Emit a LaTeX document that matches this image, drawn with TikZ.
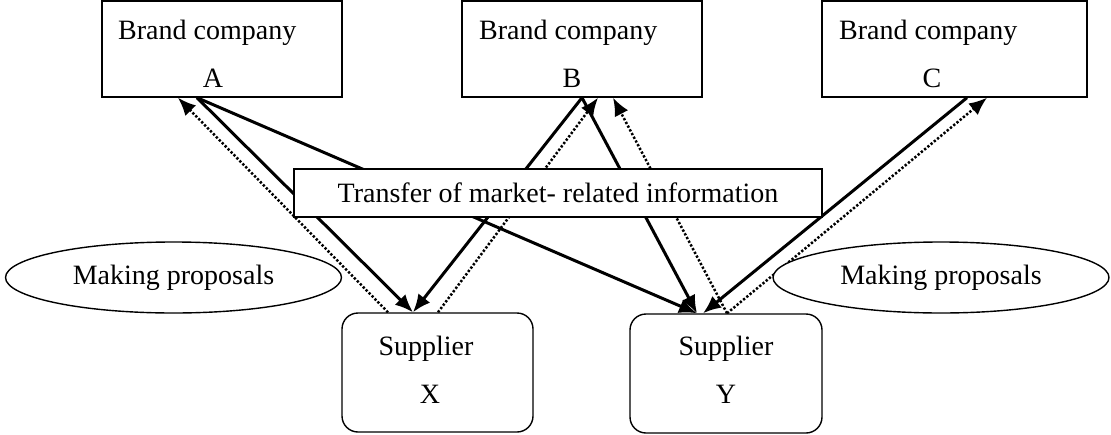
\documentclass[tikz,border=0pt]{standalone}
\usepackage{fontspec}
\setmainfont{Liberation Serif}
\usetikzlibrary{arrows.meta,shapes.geometric,backgrounds,calc}
\begin{document}
\begin{tikzpicture}[x=1pt,y=-1pt,
  box/.style={draw,line width=1.4pt,fill=white,inner sep=0pt,minimum height=96pt},
  sbox/.style={draw,line width=1.4pt,fill=white,inner sep=0pt,rounded corners=16pt,minimum width=191pt,minimum height=119pt},
  oval/.style={ellipse,draw,line width=1.4pt,fill=white,inner sep=0pt,minimum width=336pt,minimum height=71pt,font=\fontsize{28}{33}\selectfont},
  lbl/.style={inner sep=0pt,font=\fontsize{28}{33}\selectfont},
  flow/.style={line width=3pt,-{Latex[length=18pt,width=15pt]}},
  fb/.style={line width=2.5pt,dash pattern=on 2.3pt off 1.9pt,-{Latex[length=18pt,width=15pt]}}]
\useasboundingbox (0,0) rectangle (1111,434);

% brand companies
\node[box,minimum width=240pt] (A) at (222,49) {};
\node[box,minimum width=240pt] (B) at (582,49) {};
\node[box,minimum width=265pt] (C) at (954.5,49) {};
\node[lbl,anchor=base west] (At) at (118,39) {Brand company};
\node[lbl,anchor=base] (Al) at (213,87) {A};
\node[lbl,anchor=base west] (Bt) at (479,39) {Brand company};
\node[lbl,anchor=base] (Bl) at (572,87) {B};
\node[lbl,anchor=base west] (Ct) at (839,39) {Brand company};
\node[lbl,anchor=base] (Cl) at (932,87) {C};

% transfer box
\node[draw,line width=1.4pt,fill=white,inner sep=0pt,minimum width=528pt,minimum height=48pt,font=\fontsize{28}{33}\selectfont] (T) at (558,193) {Transfer of market- related information};

% suppliers
\node[sbox] (X) at (437.5,372.5) {};
\node[sbox,minimum width=192pt] (Y) at (726,373.5) {};
\node[lbl,anchor=base] (Xt) at (426,355) {Supplier};
\node[lbl,anchor=base] (Xl) at (430,403) {X};
\node[lbl,anchor=base] (Yt) at (726,355) {Supplier};
\node[lbl,anchor=base] (Yl) at (726,403) {Y};

% ellipses
\node[oval] (EL) at (173.5,277.5) {Making proposals};
\node[oval] (ER) at (941,277.5) {Making proposals};

\begin{pgfonlayer}{background}
  \draw[flow] ([xshift=-25pt]A.south) -- ([xshift=-24.5pt]X.north);
  \draw[flow] ([xshift=-25pt]A.south) -- ([xshift=-29pt]Y.north);
  \draw[fb]   ([xshift=-49.5pt]X.north) -- ([xshift=-44pt]A.south);
  \draw[flow] (B.south) -- ([xshift=-24.5pt]X.north);
  \draw[fb]   ([xshift=0.5pt]X.north) -- ([xshift=16pt]B.south);
  \draw[flow] (B.south) -- ([xshift=-29pt]Y.north);
  \draw[fb]   ([xshift=1pt]Y.north) -- ([xshift=31pt]B.south);
  \draw[flow] ([xshift=12.5pt]C.south) -- ([xshift=-23pt]Y.north);
  \draw[fb]   ([xshift=1pt]Y.north) -- ([xshift=32.5pt]C.south);
\end{pgfonlayer}
\end{tikzpicture}
\end{document}
